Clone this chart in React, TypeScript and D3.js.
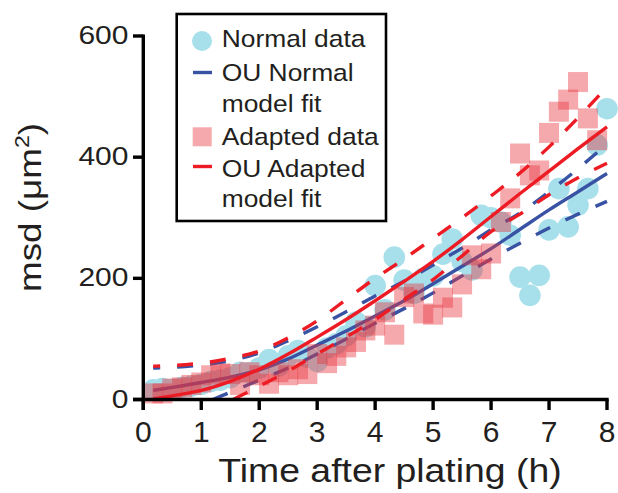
import React from "react";
import * as d3 from "d3";

const times = [0.17,0.33,0.5,0.67,0.83,1.0,1.17,1.33,1.5,1.67,1.83,2.0,2.17,2.33,2.5,2.67,2.83,3.0,3.17,3.33,3.5,3.67,3.83,4.0,4.17,4.33,4.5,4.67,4.83,5.0,5.17,5.33,5.5,5.67,5.83,6.0,6.17,6.33,6.5,6.67,6.83,7.0,7.17,7.33,7.5,7.67,7.83,8.0];
const normalData = [16,18,17,20,22,25,30,32,36,45,44,52,66,55,72,81,70,63,85,92,105,128,120,188,148,235,197,175,200,204,240,265,228,214,304,300,293,271,202,172,205,280,348,285,321,348,420,480];
const adaptedData = [10,10,18,20,24,28,40,43,42,24,45,40,26,45,40,50,42,75,60,72,86,95,114,122,144,107,169,175,142,140,168,152,190,238,215,241,293,332,406,370,378,440,475,495,524,464,428];

const fitTimes = [0.17,0.5,1,1.5,2,2.5,3,3.5,4,4.5,5,5.5,6,6.5,7,7.5,8];
const ouNormal = [15,20,28,37,49,67,90,113,138,163,191,220,249,281,313,343,373];
const ouNormalUpper = [52,53,57,64,77,97,120,145,171,195,222,250,280,308,343,381,422];
const ouAdapted = [1,6,15,30,50,75,103,132,163,195,228,264,302,340,377,414,450];
const ouAdaptedUpper = [55,56,60,68,80,102,130,165,200,232,266,300,336,374,417,465,516];
const normalLowerTimes = [1.2,1.5,2,2.5,3,3.5,4,4.5,5,5.5,6,6.5,7,7.5,8];
const ouNormalLower = [0,12,32,52,75,100,126,150,176,204,232,258,283,306,327];
const adaptedLowerTimes = [1.55,2,2.5,3,3.5,4,4.5,5,5.5,6,6.5,7,7.5,8];
const ouAdaptedLower = [0,22,47,75,103,132,165,198,237,277,306,338,366,390];

const xTicks = [0,1,2,3,4,5,6,7,8];
const yTicks = [0,200,400,600];
const legendItems = ["Normal data","OU Normal","model fit","Adapted data","OU Adapted","model fit"];

const BLUE = "#3953A4";
const RED = "#ED1C24";
const CYAN = "#A7E0EB";
const PINK = "#E8323C";
const INK = "#231F20";
const FONT = "'Liberation Sans', Arial, Helvetica, sans-serif";

export default function App() {
  const x = d3.scaleLinear().domain([0, 8]).range([143.3, 607]);
  const y = d3.scaleLinear().domain([0, 600]).range([399.5, 36]);
  const line = (ts: number[], vs: number[]) =>
    d3.line<number>().x((_, i) => x(ts[i])).y((v) => y(v)).curve(d3.curveMonotoneX)(vs) || "";

  const sw = 3.4;
  const dash = "16 17";
  const legendBaselines = [46.7, 80.7, 111.7, 145, 176.7, 206.7];

  return (
    <svg width={618} height={493} style={{ position: "absolute", left: 0, top: 0 }} fontFamily={FONT}>
      <rect width={618} height={493} fill="white" />
      {/* normal circles */}
      {normalData.map((v, i) => (
        <circle key={"c" + i} cx={x(times[i])} cy={y(v)} r={10.8} fill={CYAN} />
      ))}
      {/* blue fits */}
      <path d={line(fitTimes, ouNormal)} fill="none" stroke={BLUE} strokeWidth={sw} />
      <path d={line(fitTimes, ouNormalUpper)} fill="none" stroke={BLUE} strokeWidth={sw} strokeDasharray={dash} strokeDashoffset={9} />
      <path d={line(normalLowerTimes, ouNormalLower)} fill="none" stroke={BLUE} strokeWidth={sw} strokeDasharray={dash} />
      {/* adapted squares */}
      {adaptedData.map((v, i) => (
        <rect key={"s" + i} x={x(times[i]) - 10} y={y(v) - 10} width={20} height={20} fill={PINK} fillOpacity={0.42} />
      ))}
      {/* red fits */}
      <path d={line(fitTimes, ouAdapted)} fill="none" stroke={RED} strokeWidth={sw} />
      <path d={line(fitTimes, ouAdaptedUpper)} fill="none" stroke={RED} strokeWidth={sw} strokeDasharray={dash} strokeDashoffset={9} />
      <path d={line(adaptedLowerTimes, ouAdaptedLower)} fill="none" stroke={RED} strokeWidth={sw} strokeDasharray={dash} />

      {/* axes */}
      <line x1={143.3} x2={143.3} y1={34.5} y2={410} stroke="black" strokeWidth={3.4} />
      <line x1={133} x2={608.7} y1={399.5} y2={399.5} stroke="black" strokeWidth={3.4} />
      {yTicks.map((t) => (
        <g key={"yt" + t}>
          <line x1={133} x2={143.3} y1={y(t)} y2={y(t)} stroke="black" strokeWidth={3.4} />
          <text transform={`translate(128.5,${y(t) + 8}) scale(1.2,1)`} textAnchor="end" fontSize={25} fill={INK}>{t}</text>
        </g>
      ))}
      {xTicks.map((t) => (
        <g key={"xt" + t}>
          <line x1={x(t)} x2={x(t)} y1={399.5} y2={410} stroke="black" strokeWidth={3.4} />
          <text x={x(t)} y={441.7} textAnchor="middle" fontSize={30} fill={INK}>{t}</text>
        </g>
      ))}
      <text transform="translate(390,481.7) scale(1.15,1)" textAnchor="middle" fontSize={32.5} fill={INK}>Time after plating (h)</text>
      <text transform="translate(40.5,207.5) rotate(-90) scale(1.15,1)" textAnchor="middle" fontSize={32} fill={INK}>
        msd (μm<tspan fontSize={20} dy={-12}>2</tspan><tspan dy={12}>)</tspan>
      </text>

      {/* legend */}
      <rect x={176.7} y={14} width={209.3} height={207} fill="white" stroke="black" strokeWidth={2.6} />
      <circle cx={202} cy={41} r={10} fill={CYAN} />
      <line x1={193} x2={212} y1={72.5} y2={72.5} stroke={BLUE} strokeWidth={3.4} />
      <rect x={192.7} y={127.3} width={19} height={19} fill={PINK} fillOpacity={0.42} />
      <line x1={193} x2={212} y1={166.5} y2={166.5} stroke={RED} strokeWidth={3.4} />
      {legendItems.map((s, i) => (
        <text key={"l" + i} transform={`translate(221.7,${legendBaselines[i]}) scale(1.1,1)`} fontSize={24} fill={INK}>{s}</text>
      ))}
    </svg>
  );
}
